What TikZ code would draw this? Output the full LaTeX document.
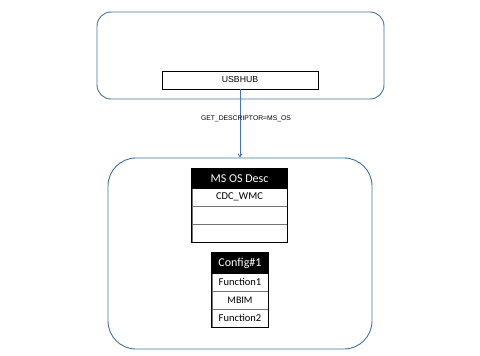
\documentclass[tikz,border=0pt]{standalone}
\usepackage{fontspec}
\setmainfont{Carlito}
\newfontfamily\arialf{Liberation Sans}
\usetikzlibrary{arrows.meta}
\definecolor{boxblue}{RGB}{65,113,156}
\definecolor{arrowblue}{RGB}{68,114,196}
\begin{document}
\begin{tikzpicture}[x=1pt,y=-1pt,
  container/.style={draw=boxblue, line width=0.9pt, inner sep=0pt},
  hubbox/.style={draw=black, line width=0.8pt, minimum width=156pt, minimum height=18pt, inner sep=0pt, font=\arialf\fontsize{8.7}{10}\selectfont},
  hdr/.style={draw=black, fill=black, text=white, inner sep=0pt, line width=0.6pt},
  cell/.style={draw=black!55, fill=white, inner sep=0pt, line width=1pt},
  lbl/.style={font=\arialf\fontsize{6.8}{8}\selectfont, inner sep=0pt},
  link/.style={draw=arrowblue, line width=0.8pt, -{Straight Barb[length=3pt,width=4pt]}}
]
\useasboundingbox (0,0) rectangle (480,356);
% containers
\node[container, rounded corners=14pt, minimum width=287pt, minimum height=87pt] (top) at (240.5,55.5) {};
\node[container, rounded corners=28pt, minimum width=264pt, minimum height=191pt] (bottom) at (240,253.5) {};
% usbhub
\node[hubbox] (hub) at (240,80) {USBHUB};
% MS OS Desc table
\begin{scope}[every node/.append style={minimum width=95pt}]
\node[cell, minimum height=18pt, font=\fontsize{10.5}{11}\selectfont] (cdc) at (239.5,197) {CDC\_WMC};
\node[cell, minimum height=18pt] (blank1) at (239.5,215) {};
\node[cell, minimum height=18pt] (blank2) at (239.5,233) {};
\node[hdr, minimum height=19pt, font=\fontsize{12}{13}\selectfont] (msos) at (239.5,178.5) {MS OS Desc};
\draw[black, line width=0.8pt] (msos.north west) rectangle (blank2.south east);
\end{scope}
% Config table
\begin{scope}[every node/.append style={minimum width=56pt}]
\node[cell, minimum height=18pt, font=\fontsize{10.5}{11}\selectfont] (f1) at (240,282) {Function1};
\node[cell, minimum height=18pt, font=\fontsize{10}{11}\selectfont] (mbim) at (240,300) {MBIM};
\node[cell, minimum height=18pt, font=\fontsize{10.5}{11}\selectfont] (f2) at (240,318) {Function2};
\node[hdr, minimum height=20pt, font=\fontsize{12}{13}\selectfont] (cfg) at (240,263) {Config\#1};
\draw[black, line width=0.8pt] (cfg.north west) rectangle (f2.south east);
\end{scope}
% connector
\draw[link] (hub.south) -- node[lbl, pos=0.435, xshift=6pt] (lab) {GET\_DESCRIPTOR=MS\_OS} (bottom.north);
\end{tikzpicture}
\end{document}
